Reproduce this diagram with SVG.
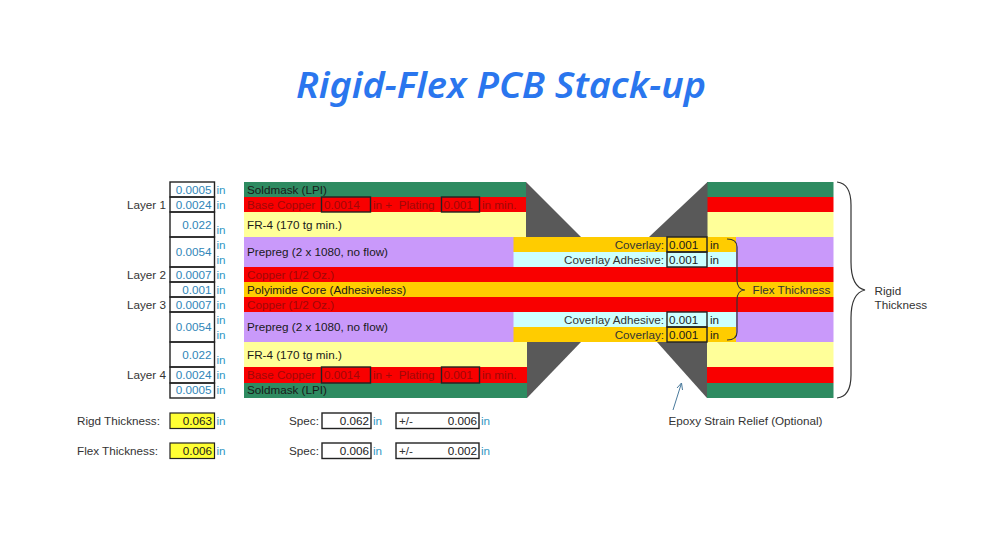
<svg xmlns="http://www.w3.org/2000/svg" width="1000" height="550" viewBox="0 0 1000 550">
<style>
text{font-family:"Liberation Sans",Arial,sans-serif;font-size:11.7px;fill:#333}
.title{font-family:"Noto Sans","Open Sans",sans-serif;font-size:36px;font-weight:600;font-style:italic;fill:#2a76ee}
.v{fill:#2f86b8;text-anchor:end}
.u{fill:#2f97c4}
.d{fill:#1a1a1a}
.n{fill:#a00808}
.e{text-anchor:end}
.g{fill:#2e8b61}.r{fill:#f90000}.y{fill:#ffff99}.p{fill:#c999fa}.o{fill:#ffcc00}.c{fill:#ccffff}.k{fill:#595959}
.b{fill:none;stroke:#222;stroke-width:1.4}
.br{fill:none;stroke:#333;stroke-width:1.2}
</style>
<rect width="1000" height="550" fill="#fff"/>
<text class="title" x="501" y="98" text-anchor="middle" textLength="410" lengthAdjust="spacingAndGlyphs">Rigid-Flex PCB Stack-up</text>
<g id="stack">
<rect class="g" x="244" y="182" width="282" height="15"/><rect class="g" x="707" y="182" width="126.500" height="15"/>
<rect class="r" x="244" y="197" width="282" height="15"/><rect class="r" x="707" y="197" width="126.500" height="15"/>
<rect class="y" x="244" y="212" width="282" height="25"/><rect class="y" x="707" y="212" width="126.500" height="25"/>
<rect class="p" x="244" y="237" width="270" height="30"/><rect class="p" x="736" y="237" width="97.500" height="30"/>
<rect class="o" x="513.500" y="237" width="222.500" height="15"/>
<rect class="c" x="513.500" y="252" width="222.500" height="15"/>
<rect class="r" x="244" y="267" width="589.500" height="15"/>
<rect class="o" x="244" y="282" width="589.500" height="15"/>
<rect class="r" x="244" y="297" width="589.500" height="15"/>
<rect class="p" x="244" y="312" width="270" height="30"/><rect class="p" x="736" y="312" width="97.500" height="30"/>
<rect class="c" x="513.500" y="312" width="222.500" height="15"/>
<rect class="o" x="513.500" y="327" width="222.500" height="15"/>
<rect class="y" x="244" y="342" width="283" height="25"/><rect class="y" x="707" y="342" width="126.500" height="25"/>
<rect class="r" x="244" y="367" width="283" height="16"/><rect class="r" x="707" y="367" width="126.500" height="16"/>
<rect class="g" x="244" y="383" width="283" height="15"/><rect class="g" x="707" y="383" width="126.500" height="15"/>
</g>
<g id="epoxy">
<polygon class="k" points="526,182 581,237 526,237"/>
<polygon class="k" points="707.500,182 707.500,237 649,237"/>
<polygon class="k" points="527,342 581,342 527,398"/>
<polygon class="k" points="657,342 707,342 707,398"/>
</g>
<g id="thickness-table">
<rect class="b" x="170" y="182" width="44.500" height="15"/>
<rect class="b" x="170" y="197" width="44.500" height="15"/>
<rect class="b" x="170" y="212" width="44.500" height="25"/>
<rect class="b" x="170" y="237" width="44.500" height="30"/>
<rect class="b" x="170" y="267" width="44.500" height="15"/>
<rect class="b" x="170" y="282" width="44.500" height="15"/>
<rect class="b" x="170" y="297" width="44.500" height="15"/>
<rect class="b" x="170" y="312" width="44.500" height="30"/>
<rect class="b" x="170" y="342" width="44.500" height="25"/>
<rect class="b" x="170" y="367" width="44.500" height="16"/>
<rect class="b" x="170" y="383" width="44.500" height="15"/>
<text class="v" x="211.500" y="194">0.0005</text><text class="v" x="211.500" y="209">0.0024</text>
<text class="v" x="211.500" y="229">0.022</text><text class="v" x="211.500" y="256">0.0054</text>
<text class="v" x="211.500" y="279">0.0007</text><text class="v" x="211.500" y="294">0.001</text>
<text class="v" x="211.500" y="309">0.0007</text><text class="v" x="211.500" y="331">0.0054</text>
<text class="v" x="211.500" y="359">0.022</text><text class="v" x="211.500" y="379">0.0024</text>
<text class="v" x="211.500" y="394">0.0005</text>
<text class="u" x="216.500" y="209">in</text><text class="u" x="216.500" y="194">in</text><text class="u" x="216.500" y="234">in</text>
<text class="u" x="216.500" y="249">in</text><text class="u" x="216.500" y="264">in</text><text class="u" x="216.500" y="279">in</text>
<text class="u" x="216.500" y="294">in</text><text class="u" x="216.500" y="309">in</text><text class="u" x="216.500" y="324">in</text>
<text class="u" x="216.500" y="339">in</text><text class="u" x="216.500" y="364">in</text><text class="u" x="216.500" y="379">in</text>
<text class="u" x="216.500" y="394">in</text>
<text class="e" x="166" y="209">Layer 1</text><text class="e" x="166" y="279">Layer 2</text>
<text class="e" x="166" y="309">Layer 3</text><text class="e" x="166" y="379">Layer 4</text>
</g>
<g id="layer-labels">
<text class="d" x="247" y="194">Soldmask (LPI)</text>
<text class="n" x="247" y="209">Base Copper</text>
<rect class="b" x="321.500" y="197" width="49" height="15"/><text class="n" x="324" y="209">0.0014</text>
<text class="n" x="373" y="209" xml:space="preserve">in +  Plating</text>
<rect class="b" x="441.500" y="197" width="38" height="15"/><text class="n" x="443.500" y="209">0.001</text>
<text class="n" x="482" y="209">in min.</text>
<text class="d" x="247" y="229">FR-4 (170 tg min.)</text>
<text class="d" x="247" y="256">Prepreg (2 x 1080, no flow)</text>
<text class="n" x="247" y="279">Copper (1/2 Oz.)</text>
<text class="d" x="247" y="294">Polyimide Core (Adhesiveless)</text>
<text class="n" x="247" y="309">Copper (1/2 Oz.)</text>
<text class="d" x="247" y="331">Prepreg (2 x 1080, no flow)</text>
<text class="d" x="247" y="359">FR-4 (170 tg min.)</text>
<text class="n" x="247" y="379">Base Copper</text>
<rect class="b" x="321.500" y="367" width="49" height="16"/><text class="n" x="324" y="379">0.0014</text>
<text class="n" x="373" y="379" xml:space="preserve">in +  Plating</text>
<rect class="b" x="441.500" y="367" width="38" height="16"/><text class="n" x="443.500" y="379">0.001</text>
<text class="n" x="482" y="379">in min.</text>
<text class="d" x="247" y="394">Soldmask (LPI)</text>
</g>
<g id="coverlay">
<text class="e" x="664" y="249">Coverlay:</text><rect class="b" x="667" y="237" width="40" height="15"/><text class="d" x="669" y="249">0.001</text><text class="d" x="710" y="249">in</text>
<text class="e" x="664" y="264">Coverlay Adhesive:</text><rect class="b" x="667" y="252" width="40" height="15"/><text class="d" x="669" y="264">0.001</text><text class="d" x="710" y="264">in</text>
<text class="e" x="664" y="324">Coverlay Adhesive:</text><rect class="b" x="667" y="312" width="40" height="15"/><text class="d" x="669" y="324">0.001</text><text class="d" x="710" y="324">in</text>
<text class="e" x="664" y="339">Coverlay:</text><rect class="b" x="667" y="327" width="40" height="15"/><text class="d" x="669" y="339">0.001</text><text class="d" x="710" y="339">in</text>
</g>
<g id="connectors">
<path class="br" d="M727,239C733,239 737,241 737,247V280C737,286 740,290 745,290C740,290 737,294 737,300V332C737,338 733,340 727,340"/>
<path class="br" d="M837,182C846,183 851,190 851,205V262C851,280 856,288 865,290C856,292 851,300 851,318V375C851,390 846,397 837,398"/>
<path fill="none" stroke="#4a7a9c" stroke-width="1" d="M673,410 681.500,383M677,388 681.500,383 682.500,390"/>
</g>
<g id="annotations">
<text x="752.500" y="294">Flex Thickness</text>
<text x="874.500" y="295">Rigid</text>
<text x="874.500" y="309">Thickness</text>
<text x="668.500" y="425">Epoxy Strain Relief (Optional)</text>
</g>
<g id="summary">
<text x="77" y="425">Rigd Thickness:</text>
<rect x="170" y="413" width="44.500" height="15.500" fill="#ffff33" stroke="#222" stroke-width="1.200"/><text class="d e" x="212" y="425">0.063</text><text class="u" x="216.500" y="425">in</text>
<text x="289" y="425">Spec:</text>
<rect class="b" x="322" y="413" width="49" height="15.500"/><text class="d e" x="369" y="425">0.062</text><text class="u" x="373" y="425">in</text>
<rect class="b" x="396" y="413" width="83" height="15.500"/><text x="399" y="425">+/-</text><text class="d e" x="477" y="425">0.006</text><text class="u" x="481" y="425">in</text>
<text x="77" y="455">Flex Thickness:</text>
<rect x="170" y="443" width="44.500" height="15.500" fill="#ffff33" stroke="#222" stroke-width="1.200"/><text class="d e" x="212" y="455">0.006</text><text class="u" x="216.500" y="455">in</text>
<text x="289" y="455">Spec:</text>
<rect class="b" x="322" y="443" width="49" height="15.500"/><text class="d e" x="369" y="455">0.006</text><text class="u" x="373" y="455">in</text>
<rect class="b" x="396" y="443" width="83" height="15.500"/><text x="399" y="455">+/-</text><text class="d e" x="477" y="455">0.002</text><text class="u" x="481" y="455">in</text>
</g>
</svg>
